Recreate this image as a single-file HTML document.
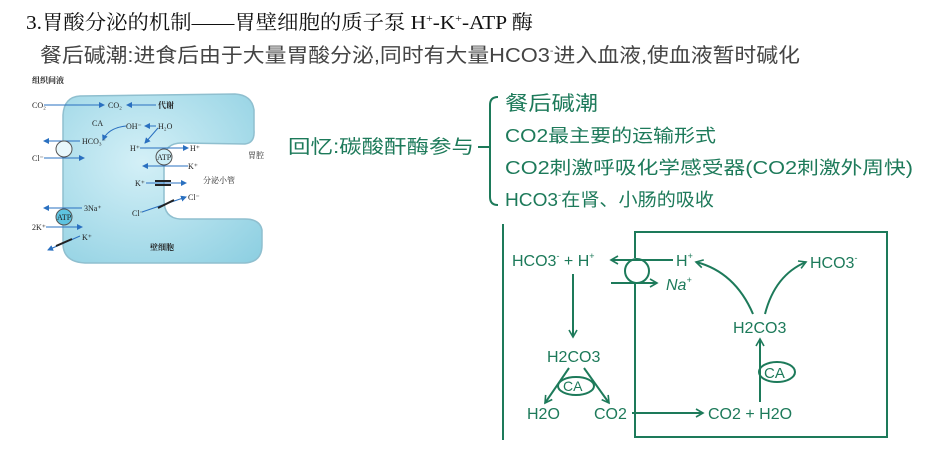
<!DOCTYPE html>
<html><head><meta charset="utf-8"><style>
html,body{margin:0;padding:0;background:#fff;width:942px;height:461px;overflow:hidden}
svg{display:block}
.k{font-family:"Liberation Serif","Noto Serif CJK SC",serif}
.g{font-family:"Liberation Sans","Noto Sans CJK SC",sans-serif;fill:#1d7a5a}
.c{font-family:"Liberation Serif","Noto Serif CJK SC",serif;font-size:8px;fill:#222}
</style></head><body>
<svg width="942" height="461" viewBox="0 0 942 461" xmlns="http://www.w3.org/2000/svg">
<defs>
<marker id="a" markerWidth="10" markerHeight="10" refX="8" refY="5" orient="auto" markerUnits="userSpaceOnUse"><path d="M1,1 L8,5 L1,9" fill="none" stroke="#1d7a5a" stroke-width="1.6"/></marker>
<marker id="b" markerWidth="6" markerHeight="6" refX="5" refY="3" orient="auto" markerUnits="userSpaceOnUse"><path d="M0,0 L6,3 L0,6z" fill="#2a70c0"/></marker>
<radialGradient id="cg" cx="0.4" cy="0.4" r="0.8"><stop offset="0" stop-color="#d4f0f7"/><stop offset="1" stop-color="#8fd0e2"/></radialGradient>
</defs>
<text class="k" x="26" y="29" font-size="20" fill="#111" textLength="507" lengthAdjust="spacingAndGlyphs">3.胃酸分泌的机制——胃壁细胞的质子泵 H<tspan font-size="11" dy="-7">+</tspan><tspan dy="7">-K</tspan><tspan font-size="11" dy="-7">+</tspan><tspan dy="7">-ATP 酶</tspan></text>
<text x="40" y="62" font-size="20" fill="#444" textLength="760" lengthAdjust="spacingAndGlyphs" style="font-family:'Liberation Sans','Noto Sans CJK SC',sans-serif">餐后碱潮:进食后由于大量胃酸分泌,同时有大量HCO3<tspan font-size="10" dy="-8">-</tspan><tspan dy="8">进入血液,使血液暂时碱化</tspan></text>

<!-- cell -->
<path d="M80,96 Q64,97 63,115 L63,245 Q64,262 85,263 L245,263 Q262,262 262,245 L262,230 Q260,219 245,219 L180,219 Q164,218 164,200 L164,160 Q164,143 182,143 L245,144 Q255,143 254,130 L254,110 Q252,95 235,94 Z" fill="url(#cg)" stroke="#8fbfcf" stroke-width="1.5"/>
<text class="c" x="32" y="83" font-weight="bold">组织间液</text>
<text class="c" x="32" y="108">CO₂</text>
<line x1="44" y1="105" x2="104" y2="105" stroke="#2a70c0" marker-end="url(#b)"/>
<text class="c" x="108" y="108">CO₂</text>
<line x1="156" y1="105" x2="127" y2="105" stroke="#2a70c0" marker-end="url(#b)"/>
<text class="c" x="158" y="108" font-weight="bold">代谢</text>
<text class="c" x="92" y="126">CA</text>
<text class="c" x="126" y="129">OH⁻</text>
<text class="c" x="158" y="129">H₂O</text>
<path d="M126,126 Q108,128 103,140" fill="none" stroke="#2a70c0" marker-end="url(#b)"/>
<line x1="156" y1="126" x2="145" y2="126" stroke="#2a70c0" marker-end="url(#b)"/>
<line x1="158" y1="128" x2="145" y2="143" stroke="#2a70c0" marker-end="url(#b)"/>
<text class="c" x="82" y="144">HCO₃⁻</text>
<line x1="80" y1="141" x2="44" y2="141" stroke="#2a70c0" marker-end="url(#b)"/>
<circle cx="64" cy="149" r="8" fill="#e8f8fc" stroke="#555"/>
<text class="c" x="32" y="161">Cl⁻</text>
<line x1="44" y1="158" x2="84" y2="158" stroke="#2a70c0" marker-end="url(#b)"/>
<text class="c" x="130" y="151">H⁺</text>
<line x1="140" y1="148" x2="188" y2="148" stroke="#2a70c0" marker-end="url(#b)"/>
<text class="c" x="190" y="151">H⁺</text>
<circle cx="164" cy="157" r="8" fill="#cdeef7" stroke="#555"/>
<text class="c" x="157" y="160" font-size="6">ATP</text>
<line x1="188" y1="166" x2="143" y2="166" stroke="#2a70c0" marker-end="url(#b)"/>
<text class="c" x="188" y="169">K⁺</text>
<text class="c" x="248" y="158">胃腔</text>
<text class="c" x="203" y="183">分泌小管</text>
<text class="c" x="135" y="186">K⁺</text>
<line x1="146" y1="183" x2="186" y2="183" stroke="#2a70c0" marker-end="url(#b)"/>
<rect x="155" y="180" width="16" height="2" fill="#222"/><rect x="155" y="184" width="16" height="2" fill="#222"/>
<text class="c" x="132" y="216">Cl⁻</text>
<line x1="142" y1="212" x2="186" y2="197" stroke="#2a70c0" marker-end="url(#b)"/>
<text class="c" x="188" y="200">Cl⁻</text>
<line x1="158" y1="208" x2="174" y2="200" stroke="#222" stroke-width="2"/>
<text class="c" x="84" y="211">3Na⁺</text>
<line x1="82" y1="208" x2="44" y2="208" stroke="#2a70c0" marker-end="url(#b)"/>
<circle cx="64" cy="217" r="8" fill="#5ec3e0" stroke="#555"/>
<text class="c" x="57" y="220" font-size="6">ATP</text>
<text class="c" x="32" y="230">2K⁺</text>
<line x1="46" y1="227" x2="82" y2="227" stroke="#2a70c0" marker-end="url(#b)"/>
<text class="c" x="82" y="240">K⁺</text>
<line x1="80" y1="236" x2="48" y2="250" stroke="#2a70c0" marker-end="url(#b)"/>
<line x1="56" y1="246" x2="72" y2="239" stroke="#222" stroke-width="2"/>
<text class="c" x="150" y="250" font-weight="bold">壁细胞</text>

<!-- recall -->
<text class="g" x="288" y="153" font-size="19" textLength="186" lengthAdjust="spacingAndGlyphs">回忆:碳酸酐酶参与</text>
<line x1="478" y1="147" x2="490" y2="147" stroke="#1d7a5a" stroke-width="2"/>
<path d="M498,97 Q490,97 490,105 L490,197 Q490,205 498,205" fill="none" stroke="#1d7a5a" stroke-width="2"/>
<text class="g" x="505" y="110" font-size="20" textLength="93" lengthAdjust="spacingAndGlyphs">餐后碱潮</text>
<text class="g" x="505" y="142" font-size="18" textLength="211" lengthAdjust="spacingAndGlyphs">CO2最主要的运输形式</text>
<text class="g" x="505" y="174" font-size="18" textLength="408" lengthAdjust="spacingAndGlyphs">CO2刺激呼吸化学感受器(CO2刺激外周快)</text>
<text class="g" x="505" y="206" font-size="18" textLength="209" lengthAdjust="spacingAndGlyphs">HCO3<tspan font-size="9" dy="-8">-</tspan><tspan dy="8">在肾、小肠的吸收</tspan></text>

<!-- right diagram -->
<g stroke="#1d7a5a" stroke-width="2" fill="none">
<line x1="503" y1="224" x2="503" y2="440"/>
<path d="M635,258 L635,232 L887,232 L887,437 L635,437 L635,284"/>
<circle cx="637" cy="271" r="12"/>
<line x1="673" y1="260" x2="611" y2="260" marker-end="url(#a)"/>
<line x1="611" y1="283" x2="657" y2="283" marker-end="url(#a)"/>
<line x1="573" y1="274" x2="573" y2="337" marker-end="url(#a)"/>
<line x1="569" y1="368" x2="545" y2="403" marker-end="url(#a)"/>
<line x1="584" y1="368" x2="609" y2="403" marker-end="url(#a)"/>
<ellipse cx="576" cy="386" rx="18" ry="9"/>
<line x1="632" y1="413" x2="703" y2="413" marker-end="url(#a)"/>
<line x1="760" y1="402" x2="760" y2="339" marker-end="url(#a)"/>
<ellipse cx="777" cy="372" rx="18" ry="10"/>
<path d="M753,314 Q735,272 696,262" marker-end="url(#a)"/>
<path d="M765,314 Q775,275 806,262" marker-end="url(#a)"/>
</g>
<g class="g" font-size="16">
<text x="512" y="266">HCO3<tspan font-size="9" dy="-7">-</tspan><tspan dy="7"> + H</tspan><tspan font-size="9" dy="-7">+</tspan></text>
<text x="676" y="266">H<tspan font-size="9" dy="-7">+</tspan></text>
<text x="666" y="290" font-style="italic">Na<tspan font-size="9" dy="-7">+</tspan></text>
<text x="810" y="268">HCO3<tspan font-size="9" dy="-7">-</tspan></text>
<text x="547" y="362">H2CO3</text>
<text x="733" y="333">H2CO3</text>
<text x="563" y="391" font-size="14">CA</text>
<text x="764" y="378" font-size="15">CA</text>
<text x="527" y="419">H2O</text>
<text x="594" y="419">CO2</text>
<text x="708" y="419">CO2 + H2O</text>
</g>
</svg>
</body></html>
